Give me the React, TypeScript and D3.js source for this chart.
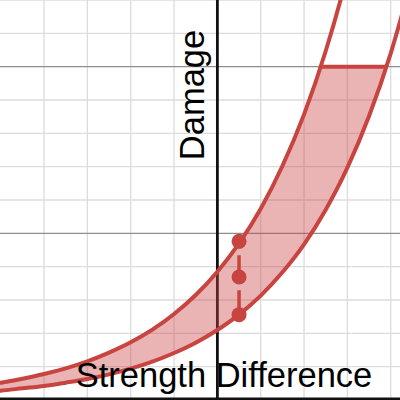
import React from "react";
import * as d3 from "d3";

// Data
const curveX = [-5.5, -5, -4.5, -4, -3.5, -3, -2.5, -2, -1.5, -1, -0.5, 0, 0.5, 1, 1.5, 2, 2.5, 3, 3.5, 4, 4.5];
const upperY = [0.43, 0.52, 0.64, 0.78, 0.95, 1.16, 1.42, 1.73, 2.11, 2.58, 3.15, 3.85, 4.7, 5.74, 7.02, 8.57, 10.47, 12.78, 15.61, 19.07, 23.29];
const lowerY = [0.23, 0.28, 0.35, 0.42, 0.52, 0.63, 0.77, 0.94, 1.15, 1.41, 1.72, 2.1, 2.56, 3.13, 3.83, 4.67, 5.71, 6.97, 8.52, 10.4, 12.7];
const capY = 10;
const capX = [2.39, 3.9];
const pointX = 0.5;
const pointY = [4.76, 3.69, 2.56];
const xGrid = [-4, -3, -2, -1, 1, 2, 3, 4];
const yMinor = [1, 2, 3, 4, 6, 7, 8, 9, 11, 12];
const yMajor = [5, 10];
const xLabel = "Strength Difference";
const yLabel = "Damage";

const W = 400;
const H = 400;
const RED = "#c74440";

export default function App() {
  const x = d3.scaleLinear().domain([-5, 4.2]).range([0.7, 399.4]);
  const y = d3.scaleLinear().domain([0, 12]).range([400, 0]);
  const pts = curveX.map((cx, i) => ({ x: cx, u: upperY[i], l: lowerY[i] }));
  const lineU = d3.line<any>().x(d => x(d.x)).y(d => y(d.u)).curve(d3.curveMonotoneX);
  const lineL = d3.line<any>().x(d => x(d.x)).y(d => y(d.l)).curve(d3.curveMonotoneX);
  const area = d3.area<any>().x(d => x(d.x)).y0(d => y(d.l)).y1(d => y(d.u)).curve(d3.curveMonotoneX);
  const font = "'Liberation Sans', Arial, Helvetica, sans-serif";

  return (
    <div style={{ position: "fixed", left: 0, top: 0 }}>
      <svg width={W} height={H} style={{ display: "block", background: "#fff" }}>
        <defs>
          <clipPath id="view"><rect x={0} y={0} width={W} height={H} /></clipPath>
          <clipPath id="cap"><rect x={0} y={y(capY)} width={W} height={H} /></clipPath>
        </defs>
        <g clipPath="url(#view)">
          {xGrid.map(v => (
            <line key={"gx" + v} x1={x(v)} x2={x(v)} y1={0} y2={H} stroke="#dcdcdc" strokeWidth={1.3} />
          ))}
          {yMinor.map(v => (
            <line key={"gy" + v} x1={0} x2={W} y1={y(v)} y2={y(v)} stroke="#dcdcdc" strokeWidth={1.3} />
          ))}
          {yMajor.map(v => (
            <line key={"gM" + v} x1={0} x2={W} y1={y(v)} y2={y(v)} stroke="#8e8e8e" strokeWidth={1.3} />
          ))}
          <line x1={x(0)} x2={x(0)} y1={0} y2={H} stroke="#111" strokeWidth={2.8} />
          <line x1={0} x2={W} y1={y(0) - 1} y2={y(0) - 1} stroke="#111" strokeWidth={2.8} />
          <path d={area(pts) || ""} fill={RED} fillOpacity={0.4} clipPath="url(#cap)" />
          <path d={lineU(pts) || ""} fill="none" stroke={RED} strokeWidth={4} />
          <path d={lineL(pts) || ""} fill="none" stroke={RED} strokeWidth={4} />
          <line x1={x(capX[0])} x2={x(capX[1])} y1={y(capY)} y2={y(capY)} stroke={RED} strokeWidth={4} />
          <line
            x1={x(pointX)} x2={x(pointX)} y1={y(pointY[0])} y2={y(pointY[2])}
            stroke={RED} strokeWidth={3.5} strokeDasharray="28 7" strokeDashoffset={21}
          />
          {pointY.map((v, i) => (
            <circle key={"p" + i} cx={x(pointX)} cy={y(v)} r={7.5} fill={RED} />
          ))}
          <text
            x={224} y={387} textAnchor="middle" fontFamily={font} fontSize={34.5} fill="#000"
          >{xLabel}</text>
          <text
            transform={`translate(204,95) rotate(-90)`} textAnchor="middle" fontFamily={font} fontSize={34.5} fill="#000"
          >{yLabel}</text>
        </g>
      </svg>
    </div>
  );
}
